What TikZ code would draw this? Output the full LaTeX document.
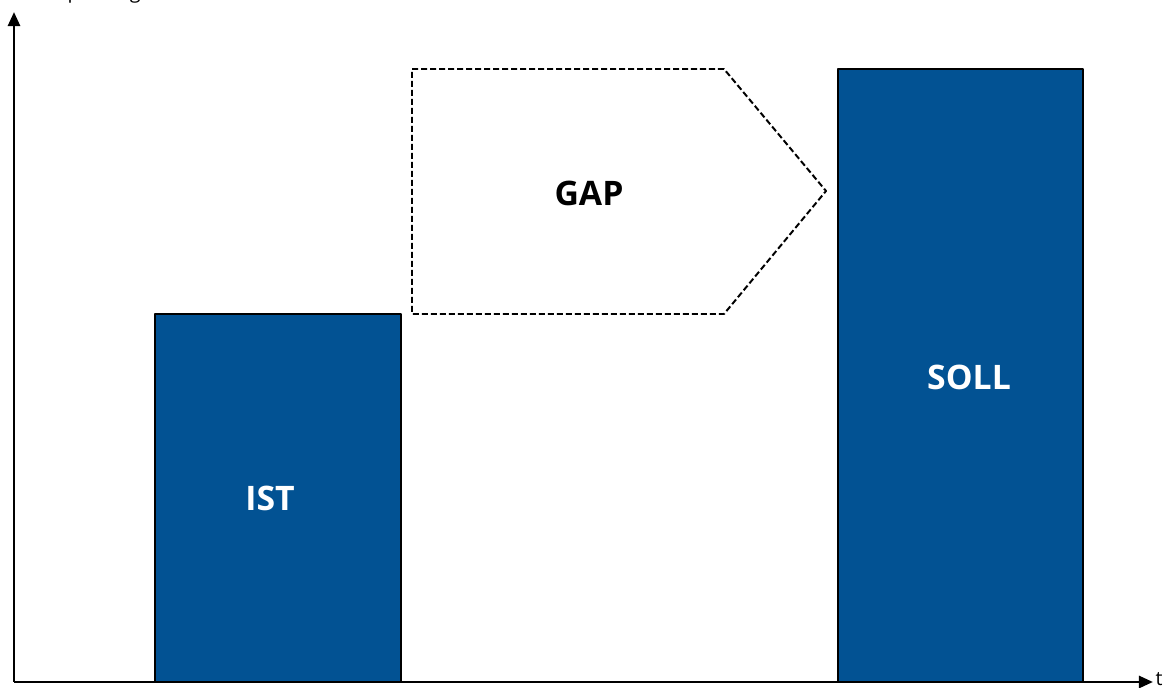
\documentclass[tikz,border=0pt]{standalone}
\usepackage{fontspec}
\usetikzlibrary{arrows.meta}
\setmainfont{Open Sans}
\definecolor{balken}{RGB}{2,82,147}
\begin{document}
\begin{tikzpicture}[x=0.025cm, y=0.025cm, line join=round,
	bar/.style={draw=black, line width=1.4pt, fill=balken},
	lbl/.style={font=\fontsize{24}{28}\selectfont\bfseries},
	axis/.style={line width=2pt, -{Triangle[length=10pt, width=8.5pt]}}]
	\useasboundingbox (0,0) rectangle (1176,688);
	\path
	(14,6)coordinate(O)
	(1153,6)coordinate(x)
	(14,676)coordinate(y)
	;
	\draw [axis](O)--(x);
	\draw [axis](O)--(y);
	\node[anchor=west, inner sep=1pt] (tlab) at (1154,9) {\fontsize{14}{16}\selectfont t};
	\node[anchor=base west, inner sep=0pt] (ylab) at (25,689.5) {\fontsize{14}{16}\selectfont Kompetenzgrad};
	% Balken
	\draw[bar] (155,6) rectangle (401,374);
	\draw[bar] (838,6) rectangle (1083,619);
	% Pfeil dazwischen
	\draw[dash pattern=on 4.3pt off 2.1pt, line width=1.4pt] (412,619) -- (724,619) -- (826,497) -- (724,374) -- (412,374) -- cycle;
	\node[lbl, white] (ist) at (270,190) {IST};
	\node[lbl, white] (soll) at (969,311) {SOLL};
	\node[lbl] (gap) at (589,495) {GAP};
\end{tikzpicture}
\end{document}
